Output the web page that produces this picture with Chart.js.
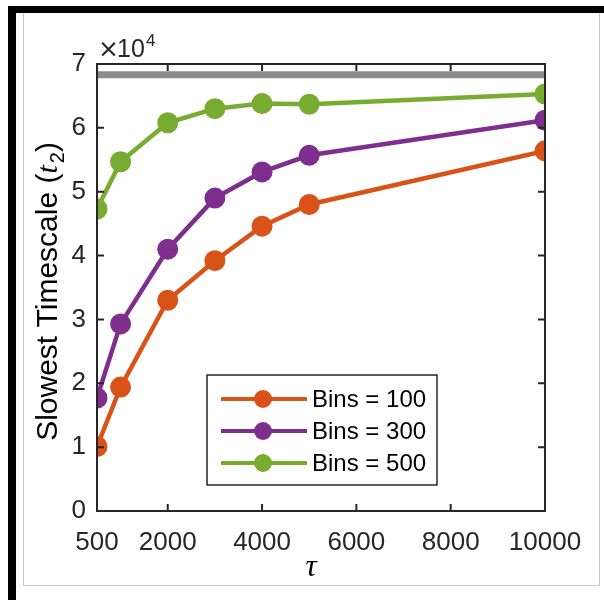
<!DOCTYPE html>
<html>
<head>
<meta charset="utf-8">
<script src="https://cdn.jsdelivr.net/npm/chart.js@4"></script>
<style>
  body { margin: 0; background: #fff; }
  canvas { display: block; }
</style>
</head>
<body>
<canvas id="chart" width="604" height="600"></canvas>
<script>
// ── Data ──────────────────────────────────────────────────────────────────────
const tau = [500, 1000, 2000, 3000, 4000, 5000, 10000];
const bins100 = [10100, 19400, 33000, 39200, 44600, 48000, 56400];
const bins300 = [17700, 29300, 41000, 49000, 53100, 55700, 61200];
const bins500 = [47300, 54700, 60800, 63000, 63800, 63700, 65300];
const seriesLabels = ["Bins = 100", "Bins = 300", "Bins = 500"];
const refLevel = 68300;
const xTicks = [500, 2000, 4000, 6000, 8000, 10000];
const yTicks = [0, 1, 2, 3, 4, 5, 6, 7];

const FONT = "'Liberation Sans', Arial, sans-serif";
const AXIS = "#262626";

const pts = (ys) => tau.map((x, i) => ({ x, y: ys[i] }));

function lineSet(label, ys, color) {
  return {
    label,
    data: pts(ys),
    borderColor: color,
    backgroundColor: color,
    borderWidth: 4.5,
    pointRadius: 10.5,
    pointHoverRadius: 10.5,
    pointBorderWidth: 0,
    tension: 0,
  };
}

// frame, inward ticks, box, exponent, titles, legend
const decor = {
  id: "decor",
  beforeDraw(chart) {
    const c = chart.ctx;
    c.save();
    c.fillStyle = "#fff";
    c.fillRect(0, 0, chart.width, chart.height);
    c.restore();
  },
  afterDatasetsDraw(chart) {
    const c = chart.ctx;
    const a = chart.chartArea;
    const xs = chart.scales.x, ys = chart.scales.y;
    c.save();

    // outer frame
    c.strokeStyle = "#c8c8c8";
    c.lineWidth = 1;
    c.beginPath();
    c.moveTo(23.5, 13); c.lineTo(23.5, 585.5); c.lineTo(599.5, 585.5); c.lineTo(599.5, 13);
    c.stroke();
    c.fillStyle = "#000";
    c.fillRect(8, 6, 596, 7);
    c.fillRect(8, 6, 8, 594);

    // axes box + inward ticks
    c.strokeStyle = AXIS;
    c.lineWidth = 2;
    c.strokeRect(a.left, a.top, a.right - a.left, a.bottom - a.top);
    c.beginPath();
    xTicks.forEach((v) => {
      const px = xs.getPixelForValue(v);
      c.moveTo(px, a.bottom); c.lineTo(px, a.bottom - 7);
      c.moveTo(px, a.top); c.lineTo(px, a.top + 7);
    });
    yTicks.forEach((v) => {
      const py = ys.getPixelForValue(v * 1e4);
      c.moveTo(a.left, py); c.lineTo(a.left + 7, py);
      c.moveTo(a.right, py); c.lineTo(a.right - 7, py);
    });
    c.stroke();

    // exponent label
    c.fillStyle = AXIS;
    c.textBaseline = "alphabetic";
    c.textAlign = "left";
    c.font = "25px 'DejaVu Sans', sans-serif";
    c.fillText("\u00d7", 98, 57);
    c.font = "25px " + FONT;
    c.fillText("10", 117, 57);
    c.font = "17px " + FONT;
    c.fillText("4", 146, 46);

    // x title
    c.font = "italic 31px 'Liberation Serif', serif";
    c.textAlign = "center";
    c.fillStyle = "#000";
    c.fillText("\u03c4", 311, 576);

    // y title (rotated, italic t with subscript)
    c.translate(57, (a.top + a.bottom) / 2 + 4);
    c.rotate(-Math.PI / 2);
    const parts = [
      { t: "Slowest Timescale (", f: "30px " + FONT, dy: 0 },
      { t: "t", f: "italic 30px 'Liberation Serif', serif", dy: 0 },
      { t: "2", f: "20px " + FONT, dy: 7 },
      { t: ")", f: "30px " + FONT, dy: 0 },
    ];
    let w = 0;
    parts.forEach((p) => { c.font = p.f; w += c.measureText(p.t).width + (p.t === "t" ? 2 : 0); });
    let x0 = -w / 2;
    c.textAlign = "left";
    parts.forEach((p) => {
      c.font = p.f;
      c.fillText(p.t, x0, p.dy);
      x0 += c.measureText(p.t).width + (p.t === "t" ? 2 : 0);
    });
    c.restore();

    // legend
    c.save();
    const lx = 207, ly = 375, lw = 230, lh = 110;
    c.fillStyle = "#fff";
    c.fillRect(lx, ly, lw, lh);
    c.strokeStyle = AXIS;
    c.lineWidth = 1.5;
    c.strokeRect(lx, ly, lw, lh);
    c.font = "24px " + FONT;
    c.textBaseline = "middle";
    c.textAlign = "left";
    chart.data.datasets.slice(0, 3).forEach((ds, i) => {
      const y = ly + 24 + i * 32;
      c.strokeStyle = ds.borderColor;
      c.lineWidth = 4;
      c.beginPath(); c.moveTo(221, y); c.lineTo(307, y); c.stroke();
      c.fillStyle = ds.borderColor;
      c.beginPath(); c.arc(263, y, 9, 0, Math.PI * 2); c.fill();
      c.fillStyle = "#000";
      c.fillText(ds.label, 312, y + 1);
    });
    c.restore();
  },
};

new Chart(document.getElementById("chart"), {
  type: "line",
  data: {
    datasets: [
      lineSet(seriesLabels[0], bins100, "#D95319"),
      lineSet(seriesLabels[1], bins300, "#7E2F8E"),
      lineSet(seriesLabels[2], bins500, "#77AC30"),
      {
        label: "ref",
        data: [{ x: xTicks[0], y: refLevel }, { x: xTicks[xTicks.length - 1], y: refLevel }],
        borderColor: "#8c8c8c",
        borderWidth: 7,
        pointRadius: 0,
        borderCapStyle: "square",
      },
    ],
  },
  options: {
    responsive: false,
    animation: false,
    events: [],
    layout: { padding: { left: 0, top: 64, right: 59, bottom: 0 } },
    plugins: { legend: { display: false }, tooltip: { enabled: false } },
    scales: {
      x: {
        type: "linear",
        min: xTicks[0],
        max: xTicks[xTicks.length - 1],
        afterBuildTicks: (s) => { s.ticks = xTicks.map((v) => ({ value: v })); },
        afterFit: (s) => { s.height = 89; },
        grid: { display: false, drawTicks: false },
        border: { display: false },
        ticks: { color: AXIS, font: { family: FONT, size: 26 }, padding: 16, maxRotation: 0, autoSkip: false, callback: (v) => String(v) },
      },
      y: {
        min: 0,
        max: yTicks[yTicks.length - 1] * 1e4,
        afterBuildTicks: (s) => { s.ticks = yTicks.map((v) => ({ value: v * 1e4 })); },
        afterFit: (s) => { s.width = 97; },
        grid: { display: false, drawTicks: false },
        border: { display: false },
        ticks: { color: AXIS, font: { family: FONT, size: 26 }, padding: 11, callback: (v) => String(v / 1e4) },
      },
    },
  },
  plugins: [decor],
});
</script>
</body>
</html>
